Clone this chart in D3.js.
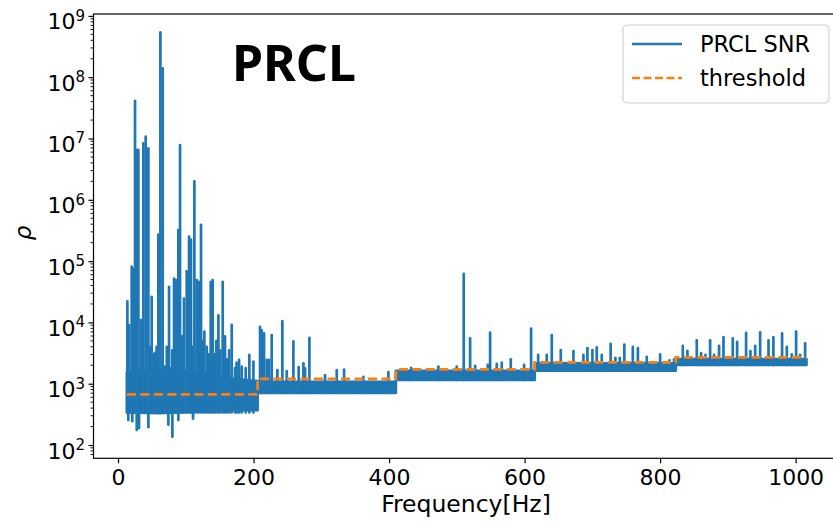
<!DOCTYPE html>
<html>
<head>
<meta charset="utf-8">
<script src="https://cdn.jsdelivr.net/npm/d3@7"></script>
<style>
  body { margin: 0; background: #fff; }
  svg  { display: block; }
  .axis text { font-family: "DejaVu Sans", sans-serif; font-size: 22px; fill: #000; }
  .axis path, .axis line { stroke: #000; }
</style>
</head>
<body>
<div id="chart"></div>
<script>
// ── Data ──────────────────────────────────────────────────────
const xTicks = [0, 200, 400, 600, 800, 1000];
const yTickExp = [2, 3, 4, 5, 6, 7, 8, 9];

// threshold: one level per frequency band
const thresholdStart = [13, 206, 410, 615, 823];
const thresholdEnd   = 1016;
const thresholdValue = [671, 1195, 1718, 2234, 2690];

// dense noise floor of the SNR trace (lower / upper edge)
const bandFreq = [13,   60,   120,  170,  206,  206,  410,  410,  615,  615,  823,  823,  1016];
const bandLow  = [340,  330,  350,  370,  370,  710,  710,  1150, 1150, 1630, 1630, 2020, 2020];
const bandHigh = [1500, 1700, 1500, 1200, 1100, 1070, 1070, 1620, 1620, 2150, 2150, 2530, 2530];

// upward peaks of the SNR trace
const spikeFreq = [
  13.8, 16.5, 20.2, 22.6, 25.1, 27.6, 30.0, 33.5, 35.5, 37.4, 40.8, 44.8, 47.0, 49.7,
  52.0, 54.6, 57.0, 59.5, 62.5, 65.9, 69.4, 72.0, 75.3, 78.2, 80.0, 82.7, 85.6, 89.0,
  91.5, 95.0, 97.4, 101.4, 104.8, 107.7, 110.0, 112.7, 116.1, 119.1, 122.5, 125.0,
  127.4, 131.0, 134.0, 136.8, 139.7, 143.0, 145.0, 148.1, 151.0, 154.5, 157.9, 161.0,
  164.0, 167.8, 172.7, 175.0, 178.6, 182.5, 188.4, 193.8, 199.8,
  209.6, 212.0, 215.5, 219.4, 223.0, 226.8, 235.2, 242.5, 249.0, 258.8, 266.6, 273.6,
  276.0, 282.4, 305.5, 322.8, 333.6, 362.0, 399.0,
  432.5, 472.8, 499.8, 510.2, 519.6, 527.0, 545.6, 549.1, 558.9, 566.3, 579.6, 599.3, 609.6,
  620.0, 632.7, 640.1, 653.4, 672.1, 686.8, 692.7, 700.1, 706.5, 713.9, 727.0, 734.0,
  740.5, 747.2, 759.7, 767.2, 780.3, 800.0, 813.8, 820.6,
  833.5, 840.3, 854.1, 860.5, 866.9, 873.8, 879.7, 887.0, 893.5, 907.2, 913.6, 926.9,
  933.3, 940.3, 947.6, 960.0, 967.2, 980.0, 987.0, 994.3, 1000.7, 1006.6, 1014.0
];
const spikePeak = [
  22000, 9000, 81000, 75000, 4.1e7, 6.5e6, 6.5e6, 11000, 9000, 8.3e6, 1.07e7, 6.9e6, 4000, 26000,
  3000, 3200, 4000, 270000, 5.4e8, 1.4e8, 1900, 4000, 38000, 1800, 3500, 52000, 49000, 320000,
  7.8e6, 6000, 24500, 68000, 250000, 225000, 4000, 2.0e6, 49000, 46000, 390000, 5000,
  7100, 4000, 3000, 46000, 49000, 3000, 5000, 13000, 3500, 46000, 5900, 2500,
  3500, 9100, 1800, 2200, 2450, 1900, 1800, 2950, 2300,
  8500, 7400, 6600, 2450, 2450, 6200, 1660, 10500, 1600, 4900, 1860, 2150,
  1780, 5600, 1380, 1660, 1700, 1290, 1550,
  1820, 1900, 1900, 62000, 5500, 1950, 2040, 6800, 2100, 2200, 2500, 2040, 7900,
  2950, 2950, 6200, 3550, 3400, 2950, 3800, 3550, 3900, 2950, 4450, 2650,
  2650, 4350, 4000, 3800, 2750, 3000, 2400, 2500,
  4150, 3450, 5100, 3150, 2950, 5100, 2950, 4150, 5750, 5500, 4800, 6750,
  3400, 4150, 6900, 5100, 5750, 6600, 4000, 3000, 7100, 2950, 4550
];

// downward dips below the noise floor
const dipFreq  = [15.2, 21.0, 27.6, 31.0, 44.8, 74.3, 80.2, 89.0, 110.7];
const dipValue = [255,  245,  176,  188,  195,  215,  137,  255,  270];

// ── Layout ────────────────────────────────────────────────────
const W = 833, H = 521;
const plot = { left: 93.5, right: 839, top: 14, bottom: 458.3 };
const blue = "#1f77b4", orange = "#ff7f0e";
const lineW = 2.7;

const svg = d3.select("#chart").append("svg")
  .attr("width", W).attr("height", H);

const x = d3.scaleLinear().domain([-36.2, 1064]).range([plot.left, plot.right]);
const y = d3.scaleLog().domain([60.7, 1.074e9]).range([plot.bottom, plot.top]);

svg.append("defs").append("clipPath").attr("id", "clip")
  .append("rect")
    .attr("x", plot.left).attr("y", plot.top)
    .attr("width", plot.right - plot.left).attr("height", plot.bottom - plot.top);

const g = svg.append("g").attr("clip-path", "url(#clip)");

// segment lookup for a frequency
const segOf = f => {
  let s = 0;
  thresholdStart.forEach((st, i) => { if (f >= st) s = i; });
  return s;
};
const segLow  = [bandLow[0], bandLow[5], bandLow[7], bandLow[9], bandLow[11]];
const segHigh = [bandHigh[3], bandHigh[5], bandHigh[7], bandHigh[9], bandHigh[11]];

// ── SNR trace: floor band ─────────────────────────────────────
const area = d3.area()
  .x(i => x(bandFreq[i]))
  .y0(i => y(bandLow[i]))
  .y1(i => y(bandHigh[i]));

g.append("path")
  .attr("d", area(d3.range(bandFreq.length)))
  .attr("fill", blue)
  .attr("stroke", blue)
  .attr("stroke-width", lineW)
  .attr("stroke-linejoin", "round");

// ── SNR trace: peaks and dips ─────────────────────────────────
g.selectAll(".spike")
  .data(d3.range(spikeFreq.length))
  .join("line")
    .attr("class", "spike")
    .attr("x1", i => x(spikeFreq[i]))
    .attr("x2", i => x(spikeFreq[i]))
    .attr("y1", i => y(segLow[segOf(spikeFreq[i])]))
    .attr("y2", i => y(spikePeak[i]))
    .attr("stroke", blue)
    .attr("stroke-width", lineW)
    .attr("stroke-linecap", "round");

g.selectAll(".dip")
  .data(d3.range(dipFreq.length))
  .join("line")
    .attr("class", "dip")
    .attr("x1", i => x(dipFreq[i]))
    .attr("x2", i => x(dipFreq[i]))
    .attr("y1", i => y(segHigh[segOf(dipFreq[i])]))
    .attr("y2", i => y(dipValue[i]))
    .attr("stroke", blue)
    .attr("stroke-width", lineW)
    .attr("stroke-linecap", "round");

// ── Threshold (stepped, dashed) ───────────────────────────────
const thrPts = thresholdStart.map((f, i) => [f, thresholdValue[i]])
  .concat([[thresholdEnd, thresholdValue[thresholdValue.length - 1]]]);

g.append("path")
  .attr("d", d3.line().x(d => x(d[0])).y(d => y(d[1])).curve(d3.curveStepAfter)(thrPts))
  .attr("fill", "none")
  .attr("stroke", orange)
  .attr("stroke-width", lineW)
  .attr("stroke-dasharray", "9,4.5");

// ── Axes ──────────────────────────────────────────────────────
const xAxis = svg.append("g")
  .attr("class", "axis")
  .attr("transform", `translate(0,${plot.bottom})`)
  .call(d3.axisBottom(x).tickValues(xTicks).tickFormat(d3.format("d"))
    .tickSize(5).tickPadding(6).tickSizeOuter(0));
xAxis.select(".domain").remove();
xAxis.selectAll(".tick line").attr("stroke-width", 1.2);
xAxis.selectAll(".tick text").attr("dy", "0.71em").attr("y", 11);

const yAxis = svg.append("g")
  .attr("class", "axis")
  .attr("transform", `translate(${plot.left},0)`)
  .call(d3.axisLeft(y).tickValues(yTickExp.map(e => Math.pow(10, e))).tickSize(5).tickFormat(""));
yAxis.select(".domain").remove();
yAxis.selectAll(".tick line").attr("stroke-width", 1.2);
yAxis.selectAll(".tick text").each(function(d) {
  const t = d3.select(this).attr("x", -8.5).attr("y", 13).attr("dy", null)
    .attr("text-anchor", "end");
  t.append("tspan").text("10");
  t.append("tspan").attr("font-size", "15px").attr("dy", -8.6).text(Math.round(Math.log10(d)));
});

// minor log ticks
const minor = [];
for (let e = 1; e <= 8; e++) for (let m = 2; m <= 9; m++) {
  const v = m * Math.pow(10, e);
  if (v >= y.domain()[0] && v <= y.domain()[1]) minor.push(v);
}
svg.append("g").selectAll("line")
  .data(minor)
  .join("line")
    .attr("x1", plot.left - 3).attr("x2", plot.left)
    .attr("y1", d => y(d)).attr("y2", d => y(d))
    .attr("stroke", "#000").attr("stroke-width", 0.9);

// frame
svg.append("rect")
  .attr("x", plot.left).attr("y", plot.top)
  .attr("width", plot.right - plot.left).attr("height", plot.bottom - plot.top)
  .attr("fill", "none").attr("stroke", "#000").attr("stroke-width", 1.2);

// axis labels
svg.append("text")
  .attr("x", 466).attr("y", 512)
  .attr("text-anchor", "middle")
  .style("font-family", "DejaVu Sans, sans-serif").style("font-size", "23.5px")
  .text("Frequency[Hz]");

svg.append("text")
  .attr("transform", "translate(31,233) rotate(-90)")
  .attr("text-anchor", "middle")
  .style("font-family", "DejaVu Sans, sans-serif").style("font-size", "23px")
  .style("font-style", "italic")
  .text("ρ");

// title
svg.append("text")
  .attr("x", 232).attr("y", 81)
  .style("font-family", "'Noto Sans', sans-serif").style("font-size", "50px")
  .style("font-weight", "bold")
  .text("PRCL");

// ── Legend ────────────────────────────────────────────────────
const lg = svg.append("g");
lg.append("rect")
  .attr("x", 623).attr("y", 25).attr("width", 206).attr("height", 78).attr("rx", 4)
  .attr("fill", "#fff").attr("fill-opacity", 0.8)
  .attr("stroke", "#ccc").attr("stroke-width", 1);
const legendItems = [
  { label: "PRCL SNR", color: blue, dash: null, y: 44 },
  { label: "threshold", color: orange, dash: "8,3.5", y: 78 }
];
legendItems.forEach(d => {
  lg.append("line")
    .attr("x1", 632).attr("x2", 682).attr("y1", d.y).attr("y2", d.y)
    .attr("stroke", d.color).attr("stroke-width", lineW)
    .attr("stroke-dasharray", d.dash);
  lg.append("text")
    .attr("x", 700).attr("y", d.y).attr("dy", "0.36em")
    .style("font-family", "DejaVu Sans, sans-serif").style("font-size", "22.5px")
    .text(d.label);
});
</script>
</body>
</html>
